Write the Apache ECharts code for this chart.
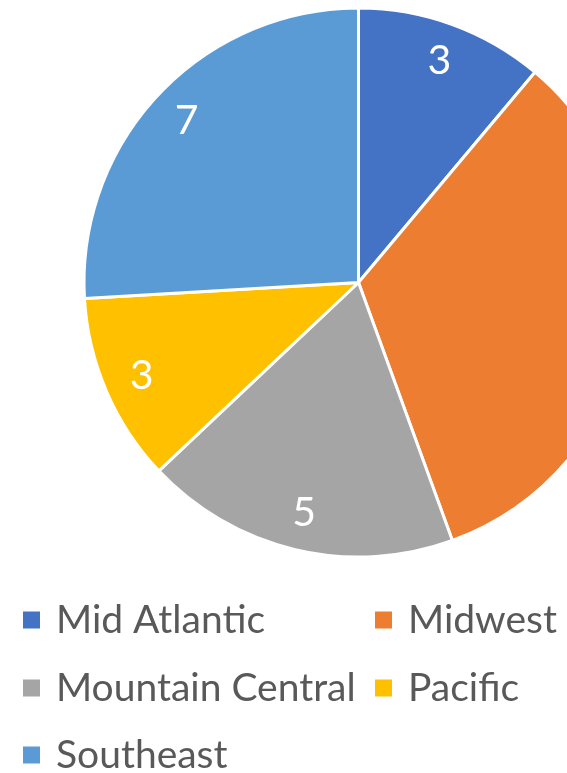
<!DOCTYPE html>
<html><head><meta charset="utf-8">
<script src="https://cdn.jsdelivr.net/npm/echarts@6/dist/echarts.min.js"></script>
<style>html,body{margin:0;padding:0;background:#fff}#c{width:567px;height:773px}</style>
</head><body><div id="c"></div>
<script>
const categories = ['Mid Atlantic', 'Midwest', 'Mountain Central', 'Pacific', 'Southeast'];
const values = [3, 9, 5, 3, 7];
const colors = ['#4472C4', '#ED7D31', '#A5A5A5', '#FFC000', '#5B9BD5'];

const FONT = 'Lato';
const chart = echarts.init(document.getElementById('c'), null, {renderer: 'canvas'});
const data = categories.map((n, i) => ({name: n, value: values[i], itemStyle: {color: colors[i]}}));
const legendPos = [[21, 600], [373, 600], [21, 668], [373, 668], [21, 735]];
const legends = categories.map((n, i) => ({
  data: [{name: n, itemStyle: {color: colors[i]}}],
  left: legendPos[i][0], top: legendPos[i][1],
  padding: 0, icon: 'rect', itemWidth: 19, itemHeight: 19,
  selectedMode: false,
  textStyle: {fontFamily: FONT, fontSize: 39, color: '#595959', lineHeight: 40, padding: [0, 0, 0, 10]}
}));
chart.setOption({
  animation: false,
  legend: legends,
  series: [
    {
      type: 'pie', center: [358.5, 282.5], radius: [0, 274.5], startAngle: 90, clockwise: true,
      data: data, silent: true,
      itemStyle: {borderColor: '#fff', borderWidth: 3},
      label: {show: false}, labelLine: {show: false}
    },
    {
      type: 'pie', center: [358.5, 282.5], radius: [192, 274.5], startAngle: 90, clockwise: true,
      data: categories.map((n, i) => ({name: n, value: values[i]})), silent: true,
      itemStyle: {color: 'rgba(0,0,0,0)'},
      label: {show: true, position: 'inside', formatter: '{c}', color: '#fff', fontFamily: FONT, fontSize: 41},
      labelLine: {show: false}
    }
  ]
});
</script></body></html>
